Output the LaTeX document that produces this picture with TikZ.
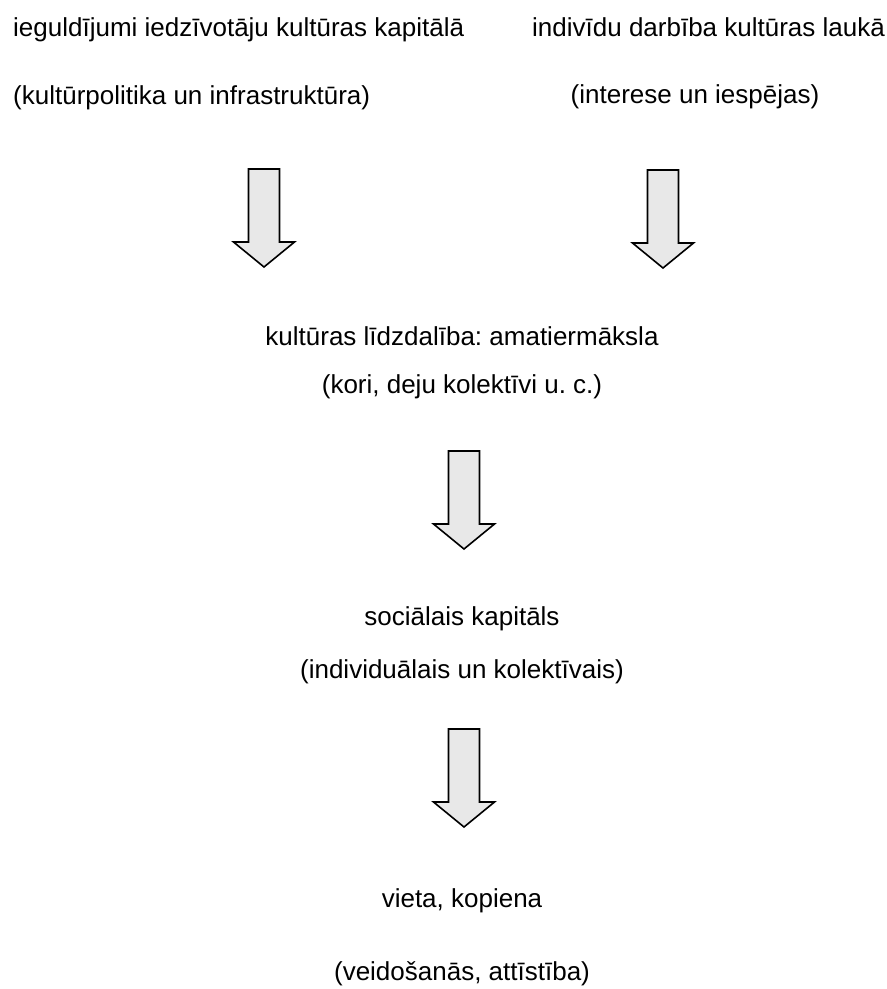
\documentclass[tikz,border=0pt]{standalone}
\usepackage{fontspec}
\setmainfont{Liberation Sans}
\frenchspacing
\begin{document}
\begin{tikzpicture}[x=1pt,y=-1pt,
  txt/.style={inner sep=0pt, font=\fontsize{26}{31}\selectfont\frenchspacing, text=black},
  blockarrow/.style={draw=black, line width=1.6pt, fill=gray!18, line join=miter},
  downarrow/.pic={\draw[blockarrow] (-15.5,0) -- (15.5,0) -- (15.5,73) -- (30.5,73) -- (0,98) -- (-30.5,73) -- (-15.5,73) -- cycle;}]
\useasboundingbox (0,0) rectangle (887,989);
% top row
\node[txt, anchor=base west] (t1) at (13,36) {ieguldījumi iedzīvotāju kultūras kapitālā};
\node[txt, anchor=base west] (s1) at (13,104) {(kultūrpolitika un infrastruktūra)};
\node[txt, anchor=base west] (t2) at (532,36) {indivīdu darbība kultūras laukā};
\node[txt, anchor=base] (s2) at (695,103) {(interese un iespējas)};
% arrows top
\pic (a1) at (264,169) {downarrow};
\pic (a2) at (663,170) {downarrow};
% middle
\node[txt, anchor=base] (m1) at (462,345) {kultūras līdzdalība: amatiermāksla};
\node[txt, anchor=base] (m2) at (462,393) {(kori, deju kolektīvi u. c.)};
\pic (a3) at (464,451) {downarrow};
\node[txt, anchor=base] (k1) at (462,625) {sociālais kapitāls};
\node[txt, anchor=base] (k2) at (462,678) {(individuālais un kolektīvais)};
\pic (a4) at (464,729) {downarrow};
\node[txt, anchor=base] (v1) at (462,907) {vieta, kopiena};
\node[txt, anchor=base] (v2) at (462,980) {(veidošanās, attīstība)};
\end{tikzpicture}
\end{document}
